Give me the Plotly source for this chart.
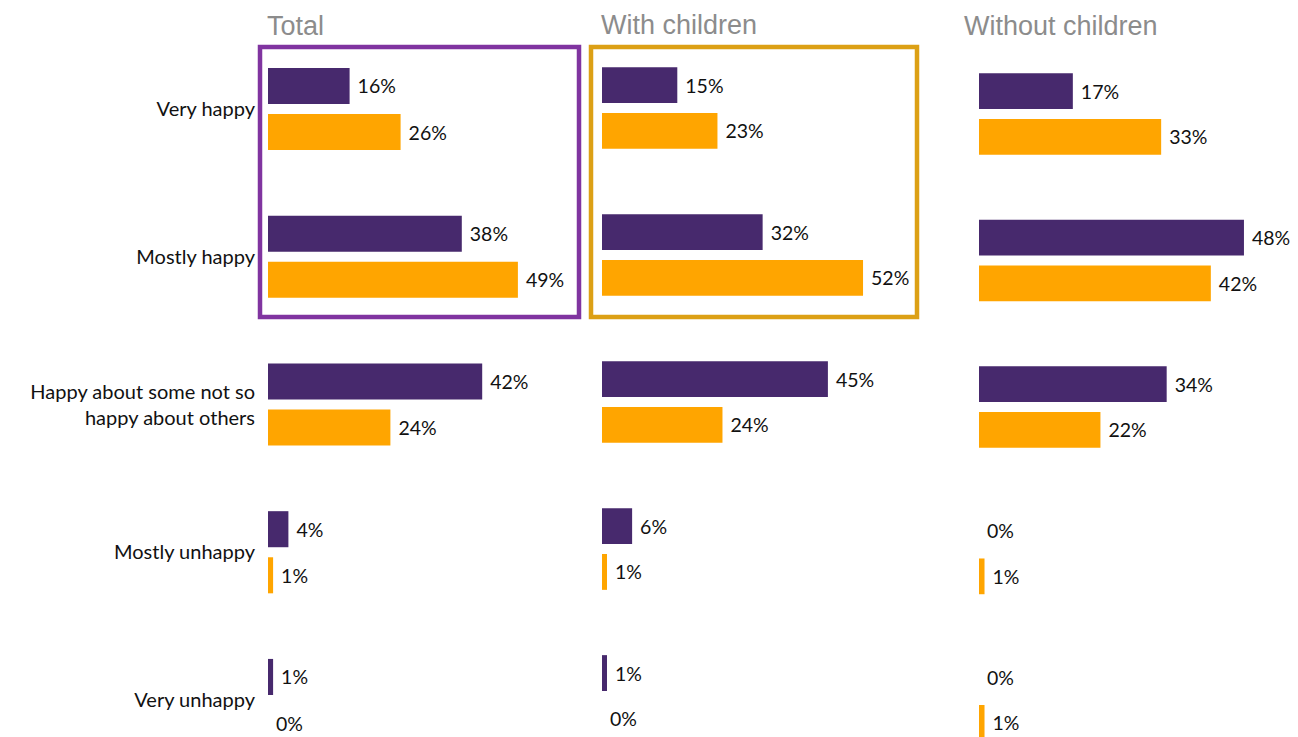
import plotly.graph_objects as go

categories = ["Very happy", "Mostly happy", "Happy about some not so<br>happy about others",
              "Mostly unhappy", "Very unhappy"]
panels = ["Total", "With children", "Without children"]

# purple series / orange series per panel (percent)
total_purple = [16, 38, 42, 4, 1]
total_orange = [26, 49, 24, 1, 0]
with_purple = [15, 32, 45, 6, 1]
with_orange = [23, 52, 24, 1, 0]
without_purple = [17, 48, 34, 0, 0]
without_orange = [33, 42, 22, 1, 1]

PURPLE = "#47296D"
ORANGE = "#FFA500"
OFF = 8  # page body margin
W, H = 1298 - OFF, 737 - OFF
FONT = "Lato"

series = [(total_purple, total_orange), (with_purple, with_orange), (without_purple, without_orange)]

def px(x):
    return (x - OFF) / W

def py(y):
    return 1 - (y - OFF) / H

# panel geometry (pixels in screenshot)
x_dom = [(268, 580), (602, 915), (979, 1298)]
x_scale = [5.1, 5.02, 5.52]
y_c0 = [109, 108, 114]
y_step = [147.75, 147, 146.5]

fig = go.Figure()
for i, (p, o) in enumerate(series):
    suffix = "" if i == 0 else str(i + 1)
    for vals, col in ((p, PURPLE), (o, ORANGE)):
        fig.add_trace(go.Bar(
            x=vals, y=categories, orientation="h",
            marker=dict(color=col, line=dict(width=0)),
            text=[f" {v}%" for v in vals], textposition="outside",
            textfont=dict(family=FONT, size=19.5, color="#111111"),
            cliponaxis=False, showlegend=False,
            xaxis="x" + suffix, yaxis="y" + suffix,
        ))

layout = dict(
    width=W, height=H, margin=dict(l=0, r=0, t=0, b=0),
    paper_bgcolor="white", plot_bgcolor="white",
    barmode="group", bargap=0.376, bargroupgap=0.218,
    font=dict(family=FONT, size=19.5, color="#111111"),
)
for i in range(3):
    suffix = "" if i == 0 else str(i + 1)
    x0, x1 = x_dom[i]
    layout["xaxis" + suffix] = dict(
        domain=[px(x0), min(px(x1), 1.0)], range=[0, (x1 - x0) / x_scale[i]],
        showgrid=False, zeroline=False, showticklabels=False, showline=False,
        anchor="y" + suffix, fixedrange=True,
    )
    top = -(y_c0[i] - OFF) / y_step[i]
    bot = (H - (y_c0[i] - OFF)) / y_step[i]
    layout["yaxis" + suffix] = dict(
        domain=[0, 1], range=[bot, top], type="category",
        categoryorder="array", categoryarray=categories,
        showgrid=False, zeroline=False, showline=False,
        showticklabels=(i == 0), ticks="", ticklabelstandoff=12,
        tickfont=dict(family=FONT, size=20, color="#111111"),
        anchor="x" + suffix, fixedrange=True,
    )
fig.update_layout(**layout)

# panel titles
title_pos = [(265, 9), (599, 8), (962, 9)]
for name, (tx, ty) in zip(panels, title_pos):
    fig.add_annotation(text=name, x=px(tx), y=py(ty), xref="paper", yref="paper",
                       xanchor="left", yanchor="top", showarrow=False,
                       font=dict(family="Liberation Sans", size=27, color="#8C8C8C"))

# highlight boxes
fig.add_shape(type="rect", xref="paper", yref="paper",
              x0=px(260), x1=px(579), y0=py(317), y1=py(47),
              line=dict(color="#8034A0", width=4.5), fillcolor="rgba(0,0,0,0)")
fig.add_shape(type="rect", xref="paper", yref="paper",
              x0=px(591), x1=px(917), y0=py(317), y1=py(47),
              line=dict(color="#DCA015", width=4.5), fillcolor="rgba(0,0,0,0)")

fig.write_html("out.html")
